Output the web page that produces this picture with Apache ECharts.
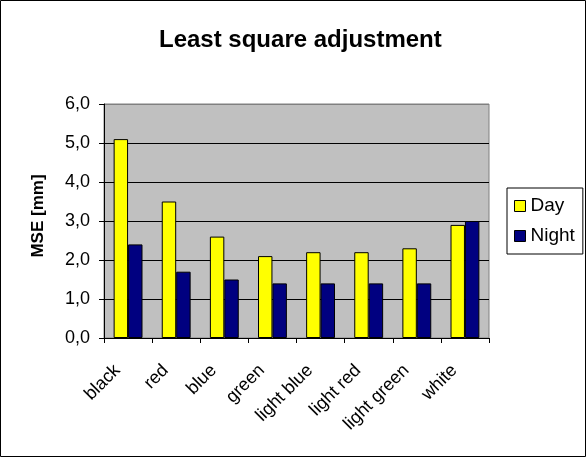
<!DOCTYPE html>
<html>
<head>
<meta charset="utf-8">
<script src="https://cdn.jsdelivr.net/npm/echarts@6/dist/echarts.min.js"></script>
<style>
  html, body { margin: 0; padding: 0; background: #fff; }
  #chart { width: 586px; height: 457px; }
</style>
</head>
<body>
<div id="chart"></div>
<script>
// Mean squared error per target colour, day vs. night runs
const categories = ['black', 'red', 'blue', 'green', 'light blue', 'light red', 'light green', 'white'];
const dayValues = [5.1, 3.5, 2.6, 2.1, 2.2, 2.2, 2.3, 2.9];
const nightValues = [2.4, 1.7, 1.5, 1.4, 1.4, 1.4, 1.4, 3.0];
const seriesNames = ['Day', 'Night'];
const yAxisTitle = 'MSE [mm]';

const fontFamily = 'Arial, "Liberation Sans", sans-serif';
const chart = echarts.init(document.getElementById('chart'), null, { renderer: 'canvas' });

chart.setOption({
  animation: false,
  backgroundColor: '#ffffff',
  title: {
    text: 'Least square adjustment',
    left: 154,
    top: 23,
    textStyle: { fontFamily, fontSize: 24, fontWeight: 'bold', color: '#000' }
  },
  graphic: [
    {
      // outer chart frame
      type: 'rect',
      shape: { x: 0.5, y: 0.5, width: 585, height: 456 },
      style: { fill: 'none', stroke: '#000', lineWidth: 1 },
      silent: true
    },
    {
      // vertical axis title
      type: 'text',
      x: 38,
      y: 216,
      rotation: Math.PI / 2,
      style: {
        text: yAxisTitle,
        fontFamily,
        fontSize: 17,
        fontWeight: 'bold',
        fill: '#000',
        align: 'center',
        verticalAlign: 'middle'
      },
      silent: true
    }
  ],
  legend: {
    orient: 'vertical',
    left: 507,
    top: 188,
    padding: [8, 8, 8, 7],
    itemGap: 10,
    itemWidth: 11,
    itemHeight: 11,
    icon: 'rect',
    borderColor: '#000',
    borderWidth: 1,
    backgroundColor: '#fff',
    itemStyle: { borderColor: '#000', borderWidth: 1 },
    textStyle: { fontFamily, fontSize: 19, color: '#000', lineHeight: 20 },
    data: seriesNames
  },
  grid: {
    left: 104, top: 104, right: 97, bottom: 119,
    show: true,
    backgroundColor: '#c0c0c0',
    borderColor: '#808080',
    borderWidth: 1
  },
  xAxis: {
    type: 'category',
    data: categories,
    axisLine: { lineStyle: { color: '#000', width: 1 } },
    axisTick: { show: true, alignWithLabel: false, length: 5, lineStyle: { color: '#000' } },
    axisLabel: {
      rotate: 45,
      interval: 0,
      margin: 19,
      padding: [0, 15, 0, 0],
      fontFamily,
      fontSize: 18,
      color: '#000'
    },
    splitLine: { show: false }
  },
  yAxis: {
    type: 'value',
    min: 0,
    max: 6,
    interval: 1,
    axisLine: { show: true, lineStyle: { color: '#000', width: 1 } },
    axisTick: { show: true, length: 5, lineStyle: { color: '#000' } },
    axisLabel: {
      margin: 14,
      fontFamily,
      fontSize: 18,
      color: '#000',
      formatter: v => v.toFixed(1).replace('.', ',')
    },
    splitLine: {
      show: true,
      lineStyle: { color: ['#000', '#000', '#000', '#000', '#000', '#000', '#808080'], width: 1 }
    }
  },
  series: [
    {
      name: seriesNames[0],
      type: 'bar',
      data: dayValues,
      barGap: '0%',
      barCategoryGap: '40%',
      itemStyle: { color: '#ffff00', borderColor: '#000', borderWidth: 1 }
    },
    {
      name: seriesNames[1],
      type: 'bar',
      data: nightValues,
      barGap: '0%',
      barCategoryGap: '40%',
      itemStyle: { color: '#000080', borderColor: '#000', borderWidth: 1 }
    }
  ]
});
</script>
</body>
</html>
